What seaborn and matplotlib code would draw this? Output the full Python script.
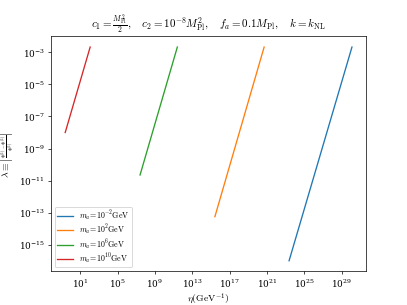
import numpy as np
import pandas as pd
import matplotlib
matplotlib.use("Agg")
import matplotlib.pyplot as plt
import seaborn as sns

# Data (log10 values of endpoints)
masses = [r"$m_a\!=\!10^{-2}\mathrm{GeV}$", r"$m_a\!=\!10^{2}\mathrm{GeV}$",
          r"$m_a\!=\!10^{6}\mathrm{GeV}$", r"$m_a\!=\!10^{10}\mathrm{GeV}$"]
log_eta_m2 = [23.36, 30.09]
log_lam_m2 = [-16.0, -2.67]
log_eta_2 = [15.42, 20.69]
log_lam_2 = [-13.25, -2.67]
log_eta_6 = [7.41, 11.40]
log_lam_6 = [-10.65, -2.67]
log_eta_10 = [-0.60, 2.07]
log_lam_10 = [-8.0, -2.67]

series = [(log_eta_m2, log_lam_m2), (log_eta_2, log_lam_2),
          (log_eta_6, log_lam_6), (log_eta_10, log_lam_10)]
rows = []
for m, (ex, ly) in zip(masses, series):
    for a, b in zip(ex, ly):
        rows.append({"eta": 10.0 ** a, "lam": 10.0 ** b, "mass": m})
df = pd.DataFrame(rows)

plt.rcParams["mathtext.fontset"] = "cm"
plt.rcParams["font.family"] = "serif"
plt.rcParams["font.serif"] = ["DejaVu Serif"]

fig, ax = plt.subplots(figsize=(6.4, 4.8), dpi=407 / 6.4)
sns.lineplot(data=df, x="eta", y="lam", hue="mass", hue_order=masses,
             palette=sns.color_palette("tab10", 4), ax=ax, linewidth=1.5)
ax.set_xscale("log")
ax.set_yscale("log")
ax.minorticks_off()
ax.set_xlabel(r"$\eta(\mathrm{GeV}^{-1})$", fontsize=11, labelpad=1)
ylab = r"$\lambda\equiv\left|\genfrac{}{}{0.6}{2}{\Phi^{(1)}-\Phi^{(1)}}{\Phi^{(1)}}\right|$"
try:
    from matplotlib.mathtext import MathTextParser
    MathTextParser("agg").parse(ylab, 72)
except Exception:
    ylab = r"$\lambda\equiv\left|\frac{\Phi^{(1)}-\Phi^{(1)}}{\Phi^{(1)}}\right|$"
ax.set_ylabel(ylab, fontsize=11, labelpad=2)
ax.set_title(r"$c_1=\frac{M_{\rm Pl}^2}{2},\quad c_2=10^{-8}M_{\rm Pl}^2,\quad f_a=0.1M_{\rm Pl},\quad k=k_{\rm NL}$",
             fontsize=12.5, pad=5)
ax.legend(loc="lower left", fontsize=9, labelspacing=0.0, borderpad=0.25,
          handlelength=2.0, handleheight=0.5)
fig.subplots_adjust(left=0.125, right=0.9, bottom=0.11, top=0.88)
fig.savefig("out.png", dpi=407 / 6.4)
